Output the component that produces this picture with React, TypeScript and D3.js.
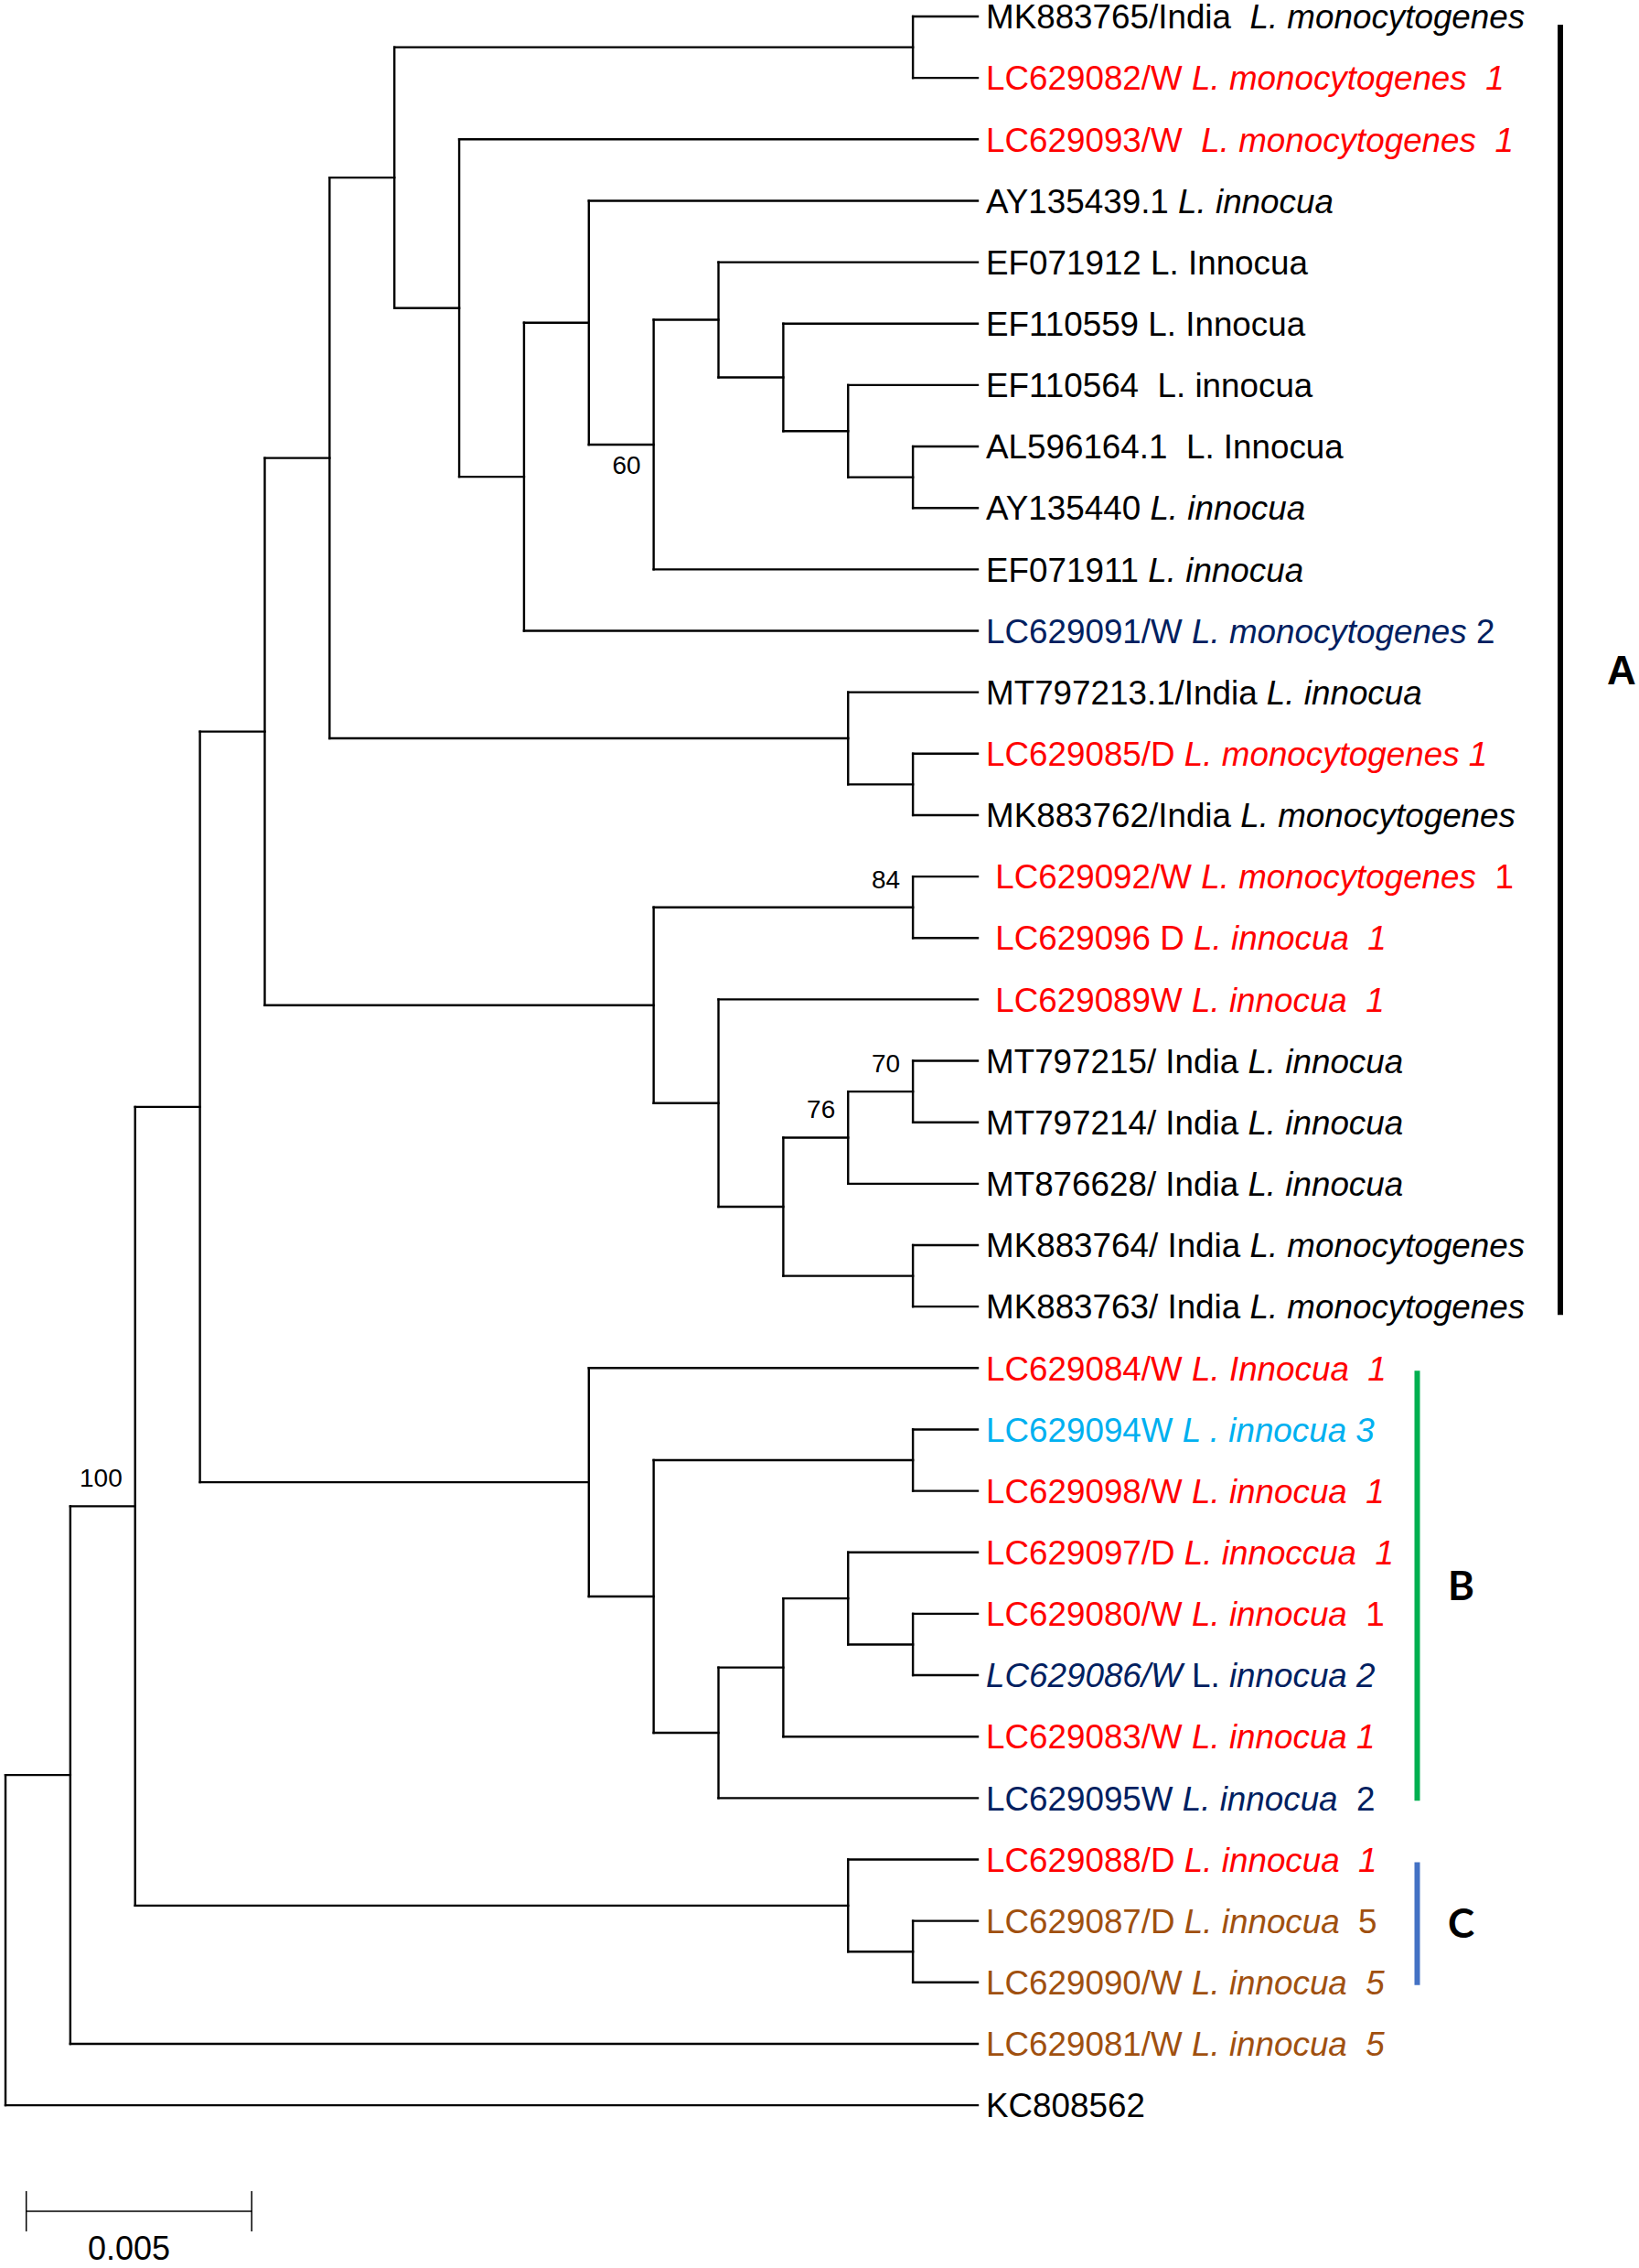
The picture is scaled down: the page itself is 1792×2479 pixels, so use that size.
import React from 'react';
import * as d3 from 'd3';

// Tree topology (Newick) with bootstrap support on internal nodes
const treeNewick =
  "((((((((MK883765,LC629082),(LC629093,((AY135439.1,((EF071912,(EF110559,(EF110564,(AL596164.1,AY135440)))),EF071911)60),LC629091))),(MT797213.1,(LC629085,MK883762))),((LC629092,LC629096)84,(LC629089W,(((MT797215,MT797214)70,MT876628)76,(MK883764,MK883763))))),(LC629084,((LC629094,LC629098),(((LC629097,(LC629080,LC629086)),LC629083),LC629095)))),(LC629088,(LC629087,LC629090)))100,LC629081),KC808562);";

const RED = '#FF0000';
const BLACK = '#000000';
const NAVY = '#002060';
const CYAN = '#00B0F0';
const BROWN = '#A0500F';

// leaf id, label segments ([text, italic]), colour
const leafIds = [
  'MK883765', 'LC629082', 'LC629093', 'AY135439.1', 'EF071912', 'EF110559', 'EF110564',
  'AL596164.1', 'AY135440', 'EF071911', 'LC629091', 'MT797213.1', 'LC629085', 'MK883762',
  'LC629092', 'LC629096', 'LC629089W', 'MT797215', 'MT797214', 'MT876628', 'MK883764',
  'MK883763', 'LC629084', 'LC629094', 'LC629098', 'LC629097', 'LC629080', 'LC629086',
  'LC629083', 'LC629095', 'LC629088', 'LC629087', 'LC629090', 'LC629081', 'KC808562',
];

const leafSegments: [string, boolean][][] = [
  [['MK883765/India  ', false], ['L. monocytogenes', true]],
  [['LC629082/W ', false], ['L. monocytogenes  1', true]],
  [['LC629093/W  ', false], ['L. monocytogenes  1', true]],
  [['AY135439.1 ', false], ['L. innocua', true]],
  [['EF071912 L. Innocua', false]],
  [['EF110559 L. Innocua', false]],
  [['EF110564  L. innocua', false]],
  [['AL596164.1  L. Innocua', false]],
  [['AY135440 ', false], ['L. innocua', true]],
  [['EF071911 ', false], ['L. innocua', true]],
  [['LC629091/W ', false], ['L. monocytogenes', true], [' 2', false]],
  [['MT797213.1/India ', false], ['L. innocua', true]],
  [['LC629085/D ', false], ['L. monocytogenes 1', true]],
  [['MK883762/India ', false], ['L. monocytogenes', true]],
  [[' LC629092/W ', false], ['L. monocytogenes', true], ['  1', false]],
  [[' LC629096 D ', false], ['L. innocua  1', true]],
  [[' LC629089W ', false], ['L. innocua  1', true]],
  [['MT797215/ India ', false], ['L. innocua', true]],
  [['MT797214/ India ', false], ['L. innocua', true]],
  [['MT876628/ India ', false], ['L. innocua', true]],
  [['MK883764/ India ', false], ['L. monocytogenes', true]],
  [['MK883763/ India ', false], ['L. monocytogenes', true]],
  [['LC629084/W ', false], ['L. Innocua  1', true]],
  [['LC629094W ', false], ['L . innocua 3', true]],
  [['LC629098/W ', false], ['L. innocua  1', true]],
  [['LC629097/D ', false], ['L. innoccua  1', true]],
  [['LC629080/W ', false], ['L. innocua', true], ['  1', false]],
  [['LC629086/W', true], [' L.', false], [' innocua 2', true]],
  [['LC629083/W ', false], ['L. innocua 1', true]],
  [['LC629095W ', false], ['L. innocua', true], ['  2', false]],
  [['LC629088/D ', false], ['L. innocua  1', true]],
  [['LC629087/D ', false], ['L. innocua', true], ['  5', false]],
  [['LC629090/W ', false], ['L. innocua  5', true]],
  [['LC629081/W ', false], ['L. innocua  5', true]],
  [['KC808562', false]],
];

const leafColors = [
  BLACK, RED, RED, BLACK, BLACK, BLACK, BLACK, BLACK, BLACK, BLACK, NAVY, BLACK, RED, BLACK,
  RED, RED, RED, BLACK, BLACK, BLACK, BLACK, BLACK, RED, CYAN, RED, RED, RED, NAVY, RED, NAVY,
  RED, BROWN, BROWN, BROWN, BLACK,
];

const supportBelow = ['60'];

const cladeNames = ['A', 'B', 'C'];
const cladeFirstLeaf = ['MK883765', 'LC629084', 'LC629088'];
const cladeLastLeaf = ['MK883763', 'LC629095', 'LC629090'];
const cladeColors = ['#000000', '#00B050', '#4472C4'];

const scaleBarValue = 0.005;
const scaleBarLabel = '0.005';

type N = { name: string; children?: N[] };

function parseNewick(s: string): N {
  let i = 0;
  function node(): N {
    const n: N = { name: '' };
    if (s[i] === '(') {
      i++;
      n.children = [node()];
      while (s[i] === ',') {
        i++;
        n.children.push(node());
      }
      i++;
    }
    let name = '';
    while (i < s.length && !',();'.includes(s[i])) name += s[i++];
    n.name = name;
    return n;
  }
  return node();
}

const W = 1792;
const H = 2479;
const left = 6;
const rowH = 67.15;
const firstLeafY = 18;
const treeW = 1063;
const FONT = "'Liberation Sans', Arial, sans-serif";

export default function App() {
  const root = d3.hierarchy<N>(parseNewick(treeNewick));
  const nLeaves = root.leaves().length;
  // d3.cluster pads half a row at each end
  d3.cluster<N>().size([nLeaves * rowH, treeW]).separation(() => 1)(root);
  const top = firstLeafY - rowH / 2;
  const X = (d: any) => left + d.y;
  const Y = (d: any) => top + d.x;

  const nodes = root.descendants();
  const leaves = root.leaves();
  const leafPos: Record<string, number> = {};
  leaves.forEach((l) => (leafPos[l.data.name] = Y(l)));

  const paths: string[] = [];
  nodes.forEach((n) => {
    if (!n.children) return;
    const ys = n.children.map(Y);
    paths.push(`M${X(n)},${d3.min(ys)}V${d3.max(ys)}`);
    n.children.forEach((c) => paths.push(`M${X(n)},${Y(c)}H${X(c)}`));
  });

  const barScale = d3.scaleLinear().domain([0, scaleBarValue]).range([0, 246.5]);
  const barX0 = 28.7;
  const barY = 2417;

  return (
    <svg
      width={W}
      height={H}
      style={{ position: 'absolute', left: 0, top: 0, background: '#fff', display: 'block' }}
    >
      <rect width={W} height={H} fill="#fff" />
      <g fill="none" stroke="#000" strokeWidth={2.4} strokeLinecap="square">
        {paths.map((p, i) => (
          <path key={i} d={p} />
        ))}
      </g>
      {nodes
        .filter((n) => n.children && n.data.name)
        .map((n, i) => {
          const below = supportBelow.includes(n.data.name);
          return (
            <text
              key={'s' + i}
              x={X(n) - 14}
              y={Y(n) + (below ? 32 : -21)}
              textAnchor="end"
              fontFamily={FONT}
              fontSize={28}
              fill="#000"
            >
              {n.data.name}
            </text>
          );
        })}
      {leaves.map((l) => {
        const idx = leafIds.indexOf(l.data.name);
        return (
          <text
            key={l.data.name}
            x={X(l) + 9}
            y={Y(l)}
            dy="0.36em"
            fontFamily={FONT}
            fontSize={36.8}
            fill={leafColors[idx]}
            style={{ whiteSpace: 'pre' }}
          >
            {leafSegments[idx].map(([t, it], k) => (
              <tspan key={k} fontStyle={it ? 'italic' : 'normal'}>
                {t}
              </tspan>
            ))}
          </text>
        );
      })}
      {cladeNames.map((c, i) => {
        const y1 = leafPos[cladeFirstLeaf[i]] + (i === 0 ? 9 : 3);
        const y2 = leafPos[cladeLastLeaf[i]] + (i === 0 ? 9 : 3);
        const bx = i === 0 ? 1706 : 1549.5;
        const lx = i === 0 ? 1757 : 1583;
        const mid = (y1 + y2) / 2;
        return (
          <g key={c}>
            <line x1={bx} x2={bx} y1={y1} y2={y2} stroke={cladeColors[i]} strokeWidth={6} />
            <text
              x={lx}
              y={mid}
              dy="0.36em"
              fontFamily={i === 0 ? FONT : "Lato, 'Open Sans', sans-serif"}
              fontWeight="bold"
              fontSize={i === 0 ? 44 : 44}
              fill="#000"
            >
              {c}
            </text>
          </g>
        );
      })}
      <g stroke="#000" strokeWidth={1.5}>
        <line x1={barX0} x2={barX0 + barScale(scaleBarValue)} y1={barY} y2={barY} />
        <line x1={barX0} x2={barX0} y1={barY - 22} y2={barY + 22} />
        <line
          x1={barX0 + barScale(scaleBarValue)}
          x2={barX0 + barScale(scaleBarValue)}
          y1={barY - 22}
          y2={barY + 22}
        />
      </g>
      <text x={141} y={2470} textAnchor="middle" fontFamily={FONT} fontSize={36} fill="#000">
        {scaleBarLabel}
      </text>
    </svg>
  );
}
